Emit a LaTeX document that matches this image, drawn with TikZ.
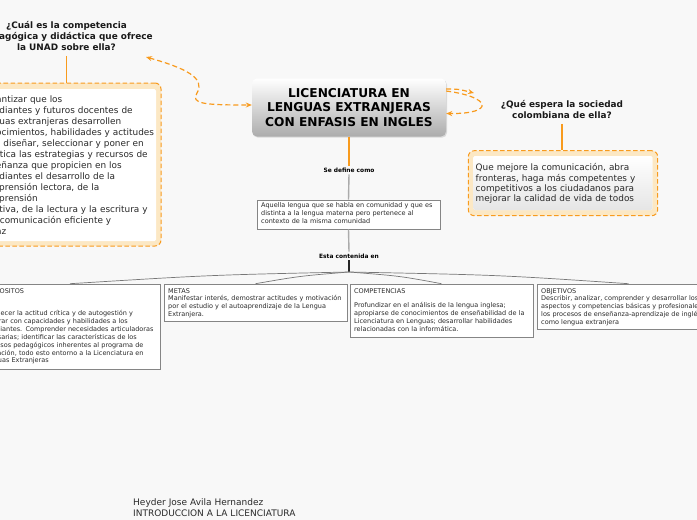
\documentclass[tikz,border=0pt]{standalone}
\usepackage{fontspec}
\setmainfont{DejaVu Sans}
\usetikzlibrary{arrows.meta,shadows}
\definecolor{bgc}{HTML}{F8F8F8}
\definecolor{org}{HTML}{F89B1E}
\definecolor{orgfill}{HTML}{FCE8C4}
\definecolor{gline}{HTML}{ABABAB}
\definecolor{bborder}{HTML}{858585}
\definecolor{txtc}{HTML}{2A2A2A}
\definecolor{fanc}{HTML}{777777}
\begin{document}
\begin{tikzpicture}[x=1pt,y=-1pt,
  smalltxt/.style={font=\fontsize{6.5}{7.9}\selectfont, text=txtc, align=left, inner sep=0pt, anchor=base west, text width=#1},
  smalltxt/.default=200pt,
  otxt/.style={font=\fontsize{8.9}{#1}\selectfont, text=txtc, align=left, inner sep=0pt, anchor=base west, text width=200pt},
  qtxt/.style={font=\bfseries\fontsize{8.9}{11}\selectfont, text=black!90, align=center, inner sep=3pt},
  lbl/.style={font=\bfseries\fontsize{5.9}{7}\selectfont, text=black, inner sep=2pt},
  cbox/.style={rounded corners=5pt, minimum width=194pt, minimum height=58pt, top color=white, bottom color=gray!65, draw=none, align=center, font=\bfseries\fontsize{12.2}{14.3}\selectfont, text=black, drop shadow={opacity=0.25, shadow xshift=1pt, shadow yshift=-1.2pt}},
  gbox/.style={draw=bborder, fill=white, line width=0.6pt, inner sep=0pt, drop shadow={opacity=0.18, shadow xshift=1pt, shadow yshift=-1pt}},
  obox/.style={draw=org, fill=orgfill, dash pattern=on 4.5pt off 2.5pt, line width=1pt, rounded corners=6pt, inner sep=0pt},
  ibox/.style={fill=white, draw=none, rounded corners=1.5pt, inner sep=0pt},
  oline/.style={draw=org, line width=1.5pt},
  gl/.style={draw=gline, line width=1.4pt},
  bl/.style={draw=black!85, line width=1.4pt},
  fanl/.style={draw=fanc, line width=0.7pt},
  rel/.style={draw=org, line width=1.2pt, dash pattern=on 5pt off 3pt},
  tip/.style={-{Stealth[length=6pt,width=5pt]}}
]
\useasboundingbox (0,0) rectangle (697,520);
\clip (0,0) rectangle (697,520);
\fill[bgc] (0,0) rectangle (697,520);

% central node
\node[cbox] (c) at (349,107.5) {LICENCIATURA EN\\LENGUAS EXTRANJERAS\\CON ENFASIS EN INGLES};

% labels
\node[lbl] (l1) at (349,170) {Se define como};
\node[lbl] (l2) at (349,256) {Esta contenida en};

% definition box
\node[gbox, minimum width=183pt, minimum height=29pt] (d) at (348.5,214.5) {};
\node[smalltxt] (dt) at (261,207.8) {Aquella lengua que se habla en comunidad y que es\\distinta a la lengua materna pero pertenece al\\contexto de la misma comunidad};

% four boxes
\node[gbox, minimum width=190pt, minimum height=85pt] (p) at (65,326.5) {};
\node[gbox, minimum width=183pt, minimum height=37pt] (m) at (255.5,302.5) {};
\node[gbox, minimum width=183pt, minimum height=53pt] (cb) at (441.5,310.5) {};
\node[gbox, minimum width=183pt, minimum height=45pt] (o) at (628.5,306.5) {};

\node[smalltxt=230pt] (pt) at (-18,293) {PROPOSITOS\\[14.6pt]Fortalecer la actitud crítica y de autogestión y\\integrar con capacidades y habilidades a los\\estudiantes. Comprender necesidades articuladoras\\necesarias; identificar las características de los\\procesos pedagógicos inherentes al programa de\\formación, todo esto entorno a la Licenciatura en\\Lenguas Extranjeras};
\node[smalltxt] (mt) at (168,293) {METAS\\Manifestar interés, demostrar actitudes y motivación\\por el estudio y el autoaprendizaje de la Lengua\\Extranjera.};
\node[smalltxt] (ct) at (354,293) {COMPETENCIAS\\[6.6pt]Profundizar en el análisis de la lengua inglesa;\\apropiarse de conocimientos de enseñabilidad de la\\Licenciatura en Lenguas; desarrollar habilidades\\relacionadas con la informática.};
\node[smalltxt] (ot) at (541,293) {OBJETIVOS\\Describir, analizar, comprender y desarrollar los\\aspectos y competencias básicas y profesionales de\\los procesos de enseñanza-aprendizaje de inglés\\como lengua extranjera};

% questions
\node[qtxt] (q1) at (66.5,36) {¿Cuál es la competencia\\pedagógica y didáctica que ofrece\\la UNAD sobre ella?};
\node[qtxt] (q2) at (562,109.5) {¿Qué espera la sociedad\\colombiana de ella?};

% left orange box
\node[obox, minimum width=191pt, minimum height=163pt] (lb) at (65.5,164.5) {};
\node[ibox, minimum width=181pt, minimum height=152pt] (lbi) at (65.5,165) {};
\node[otxt=11] (lt) at (-20,102.5) {Garantizar que los\\estudiantes y futuros docentes de\\lenguas extranjeras desarrollen\\conocimientos, habilidades y actitudes\\para diseñar, seleccionar y poner en\\práctica las estrategias y recursos de\\enseñanza que propicien en los\\estudiantes el desarrollo de la\\comprensión lectora, de la\\comprensión\\auditiva, de la lectura y la escritura y\\una comunicación eficiente y\\eficaz};

% right orange box
\node[obox, minimum width=189.4pt, minimum height=65pt] (rb) at (563,183.2) {};
\node[ibox, minimum width=179pt, minimum height=54pt, top color=white, middle color=white, bottom color=gray!20] (rbi) at (562.8,183) {};
\node[otxt=10.4] (rt) at (475.5,170.7) {Que mejore la comunicación, abra\\fronteras, haga más competentes y\\competitivos a los ciudadanos para\\mejorar la calidad de vida de todos};

% footer
\node[font=\fontsize{9}{11}\selectfont, text=txtc, align=left, inner sep=0pt, anchor=base west, text width=250pt] (ft) at (133,505) {Heyder Jose Avila Hernandez\\INTRODUCCION A LA LICENCIATURA};

% connectors
\draw[oline] (c.south) -- (l1.north);
\draw[gl] (l1.south) -- (d.north);
\draw[gl] (d.south) -- (l2.north);
\coordinate (fan) at (349,272);
\draw[bl] (l2.south) -- (fan);
\draw[fanl] (fan) .. controls (210,275) .. ([xshift=5pt]p.north);
\draw[fanl] (fan) .. controls (300,276) .. (m.north);
\draw[fanl] (fan) .. controls (400,276) .. (cb.north);
\draw[fanl] (fan) .. controls (500,275) .. (o.north);

\draw[oline, shorten <=2pt] (q1.south) -- (q1.south |- lb.north);
\draw[oline, shorten <=2pt] (q2.south) -- (q2.south |- rb.north);

% relationship curves
\coordinate (a1) at (146,57);
\draw[rel, {Stealth[length=6pt,width=5pt]}-{Stealth[length=6pt,width=5pt]}] (a1) .. controls (185,68) and (206,78) .. (197,93) .. controls (190,104) and (205,105) .. ([yshift=2.5pt]c.west);
\coordinate (a2) at (474,93);
\draw[rel, tip] ([yshift=18.5pt]c.east) .. controls (458,89) .. (a2);
\draw[rel, tip] ([yshift=16.5pt]c.east) .. controls (492,97) and (495,114) .. ([yshift=-6pt]c.east);
\end{tikzpicture}
\end{document}
